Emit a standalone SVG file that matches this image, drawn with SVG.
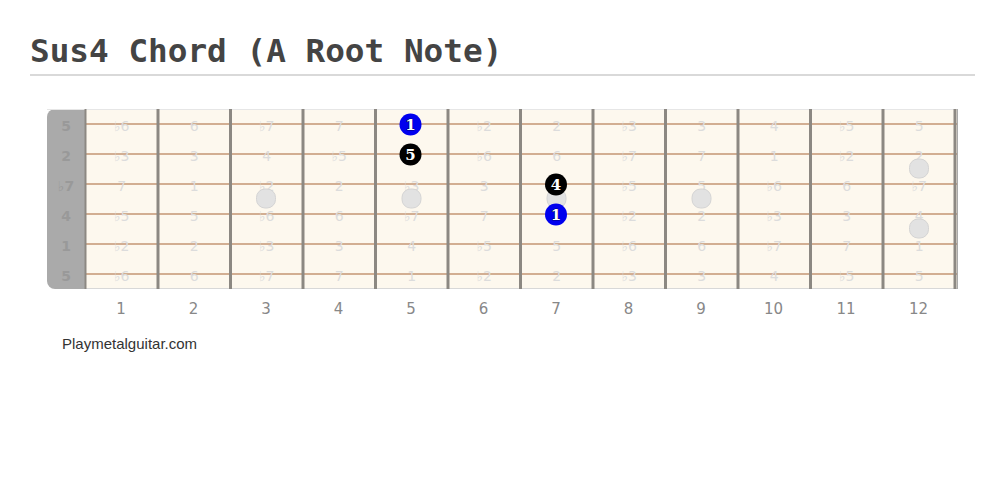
<svg xmlns="http://www.w3.org/2000/svg" width="1005" height="488" viewBox="0 0 1005 488">
<style>
.title{font-family:"DejaVu Sans Mono",monospace;font-weight:bold;font-size:32.7px;fill:#444}
.iv{font-family:"DejaVu Sans",sans-serif;font-size:14px;fill:#dcdcdc;text-anchor:middle}
.nut{font-family:"DejaVu Sans",sans-serif;font-weight:bold;font-size:14px;fill:#999;text-anchor:middle}
.fn{font-family:"DejaVu Sans",sans-serif;font-size:15px;fill:#888;text-anchor:middle}
.str{stroke:#d2ae92;stroke-width:2.2}
.fret{stroke:#8c8882;stroke-width:3}
.inlay{fill:#e2e2e2;stroke:#d4d4d4;stroke-width:1}
.dl{font-family:"DejaVu Serif",serif;font-weight:bold;font-size:15px;fill:#fff;text-anchor:middle;stroke:#000;stroke-width:0.6;paint-order:stroke}
.site{font-family:"Liberation Sans",Arial,sans-serif;font-size:15px;fill:#333}
</style>
<rect width="1005" height="488" fill="#fff"/>
<g id="title">
<text class="title" x="30" y="62">Sus4 Chord (A Root Note)</text>
<line x1="30" y1="75" x2="975" y2="75" stroke="#ccc" stroke-width="1.5"/>
</g>
<g id="board">
<rect x="47" y="109" width="911" height="180" rx="8" fill="#aaaaaa"/>
<rect x="85" y="109" width="873" height="180" fill="#fdf8ee"/>
<line x1="47" y1="109.5" x2="958" y2="109.5" stroke="#e6e6e6" stroke-width="1"/>
<line x1="85" y1="288.5" x2="958" y2="288.5" stroke="#d8d8d8" stroke-width="1"/>
</g>
<g id="strings">
<line class="str" x1="85" y1="124" x2="958" y2="124"/>
<line class="str" x1="85" y1="154" x2="958" y2="154"/>
<line class="str" x1="85" y1="184" x2="958" y2="184"/>
<line class="str" x1="85" y1="214" x2="958" y2="214"/>
<line class="str" x1="85" y1="244" x2="958" y2="244"/>
<line class="str" x1="85" y1="274" x2="958" y2="274"/>
</g>
<g id="frets">
<line x1="85.5" y1="109" x2="85.5" y2="289" stroke="#8c8882" stroke-width="2"/>
<line class="fret" x1="158" y1="109" x2="158" y2="289"/>
<line class="fret" x1="230.5" y1="109" x2="230.5" y2="289"/>
<line class="fret" x1="303" y1="109" x2="303" y2="289"/>
<line class="fret" x1="375.5" y1="109" x2="375.5" y2="289"/>
<line class="fret" x1="448" y1="109" x2="448" y2="289"/>
<line class="fret" x1="520.5" y1="109" x2="520.5" y2="289"/>
<line class="fret" x1="593" y1="109" x2="593" y2="289"/>
<line class="fret" x1="665.5" y1="109" x2="665.5" y2="289"/>
<line class="fret" x1="738" y1="109" x2="738" y2="289"/>
<line class="fret" x1="810.5" y1="109" x2="810.5" y2="289"/>
<line class="fret" x1="883" y1="109" x2="883" y2="289"/>
<line class="fret" x1="955" y1="109" x2="955" y2="289"/>
<line x1="957.5" y1="109" x2="957.5" y2="289" stroke="#aaa" stroke-width="1"/>
</g>
<g id="nut-labels">
<text class="nut" x="66" y="130.5">5</text>
<text class="nut" x="66" y="160.5">2</text>
<text class="nut" x="66" y="190.5">♭7</text>
<text class="nut" x="66" y="220.5">4</text>
<text class="nut" x="66" y="250.5">1</text>
<text class="nut" x="66" y="280.5">5</text>
</g>
<g id="intervals">
<text class="iv" x="121.75" y="130.5">♭6</text><text class="iv" x="194.25" y="130.5">6</text><text class="iv" x="266.75" y="130.5">♭7</text><text class="iv" x="339.25" y="130.5">7</text><text class="iv" x="484.25" y="130.5">♭2</text><text class="iv" x="556.75" y="130.5">2</text><text class="iv" x="629.25" y="130.5">♭3</text><text class="iv" x="701.75" y="130.5">3</text><text class="iv" x="774.25" y="130.5">4</text><text class="iv" x="846.75" y="130.5">♭5</text><text class="iv" x="919.25" y="130.5">5</text>
<text class="iv" x="121.75" y="160.5">♭3</text><text class="iv" x="194.25" y="160.5">3</text><text class="iv" x="266.75" y="160.5">4</text><text class="iv" x="339.25" y="160.5">♭5</text><text class="iv" x="484.25" y="160.5">♭6</text><text class="iv" x="556.75" y="160.5">6</text><text class="iv" x="629.25" y="160.5">♭7</text><text class="iv" x="701.75" y="160.5">7</text><text class="iv" x="774.25" y="160.5">1</text><text class="iv" x="846.75" y="160.5">♭2</text><text class="iv" x="919.25" y="160.5">2</text>
<text class="iv" x="121.75" y="190.5">7</text><text class="iv" x="194.25" y="190.5">1</text><text class="iv" x="266.75" y="190.5">♭2</text><text class="iv" x="339.25" y="190.5">2</text><text class="iv" x="411.75" y="190.5">♭3</text><text class="iv" x="484.25" y="190.5">3</text><text class="iv" x="629.25" y="190.5">♭5</text><text class="iv" x="701.75" y="190.5">5</text><text class="iv" x="774.25" y="190.5">♭6</text><text class="iv" x="846.75" y="190.5">6</text><text class="iv" x="919.25" y="190.5">♭7</text>
<text class="iv" x="121.75" y="220.5">♭5</text><text class="iv" x="194.25" y="220.5">5</text><text class="iv" x="266.75" y="220.5">♭6</text><text class="iv" x="339.25" y="220.5">6</text><text class="iv" x="411.75" y="220.5">♭7</text><text class="iv" x="484.25" y="220.5">7</text><text class="iv" x="629.25" y="220.5">♭2</text><text class="iv" x="701.75" y="220.5">2</text><text class="iv" x="774.25" y="220.5">♭3</text><text class="iv" x="846.75" y="220.5">3</text><text class="iv" x="919.25" y="220.5">4</text>
<text class="iv" x="121.75" y="250.5">♭2</text><text class="iv" x="194.25" y="250.5">2</text><text class="iv" x="266.75" y="250.5">♭3</text><text class="iv" x="339.25" y="250.5">3</text><text class="iv" x="411.75" y="250.5">4</text><text class="iv" x="484.25" y="250.5">♭5</text><text class="iv" x="556.75" y="250.5">5</text><text class="iv" x="629.25" y="250.5">♭6</text><text class="iv" x="701.75" y="250.5">6</text><text class="iv" x="774.25" y="250.5">♭7</text><text class="iv" x="846.75" y="250.5">7</text><text class="iv" x="919.25" y="250.5">1</text>
<text class="iv" x="121.75" y="280.5">♭6</text><text class="iv" x="194.25" y="280.5">6</text><text class="iv" x="266.75" y="280.5">♭7</text><text class="iv" x="339.25" y="280.5">7</text><text class="iv" x="411.75" y="280.5">1</text><text class="iv" x="484.25" y="280.5">♭2</text><text class="iv" x="556.75" y="280.5">2</text><text class="iv" x="629.25" y="280.5">♭3</text><text class="iv" x="701.75" y="280.5">3</text><text class="iv" x="774.25" y="280.5">4</text><text class="iv" x="846.75" y="280.5">♭5</text><text class="iv" x="919.25" y="280.5">5</text>
</g>
<g id="inlays">
<rect class="inlay" x="256.5" y="189" width="19" height="19" rx="8.5"/>
<rect class="inlay" x="402" y="189" width="19" height="19" rx="8.5"/>
<rect class="inlay" x="547" y="189" width="19" height="19" rx="8.5"/>
<rect class="inlay" x="692" y="189" width="19" height="19" rx="8.5"/>
<rect class="inlay" x="909.5" y="159" width="19" height="19" rx="8.5"/>
<rect class="inlay" x="909.5" y="219" width="19" height="19" rx="8.5"/>
</g>
<g id="note-5-1">
<circle cx="410.5" cy="124.5" r="11" fill="#0000ee"/>
<text class="dl" x="410.5" y="130">1</text>
</g>
<g id="note-5-5">
<circle cx="410.5" cy="154.5" r="11" fill="#000"/>
<text class="dl" x="410.5" y="160">5</text>
</g>
<g id="note-7-4">
<circle cx="556" cy="184.5" r="11" fill="#000"/>
<text class="dl" x="556" y="190">4</text>
</g>
<g id="note-7-1">
<circle cx="556" cy="214.5" r="11" fill="#0000ee"/>
<text class="dl" x="556" y="220">1</text>
</g>
<g id="fret-numbers">
<text class="fn" x="121" y="314">1</text><text class="fn" x="193.5" y="314">2</text><text class="fn" x="266" y="314">3</text><text class="fn" x="338.5" y="314">4</text><text class="fn" x="411" y="314">5</text><text class="fn" x="483.5" y="314">6</text><text class="fn" x="556" y="314">7</text><text class="fn" x="628.5" y="314">8</text><text class="fn" x="701" y="314">9</text><text class="fn" x="773.5" y="314">10</text><text class="fn" x="846" y="314">11</text><text class="fn" x="918.5" y="314">12</text>
</g>
<g id="credit">
<text class="site" x="62" y="349">Playmetalguitar.com</text>
</g>
</svg>
